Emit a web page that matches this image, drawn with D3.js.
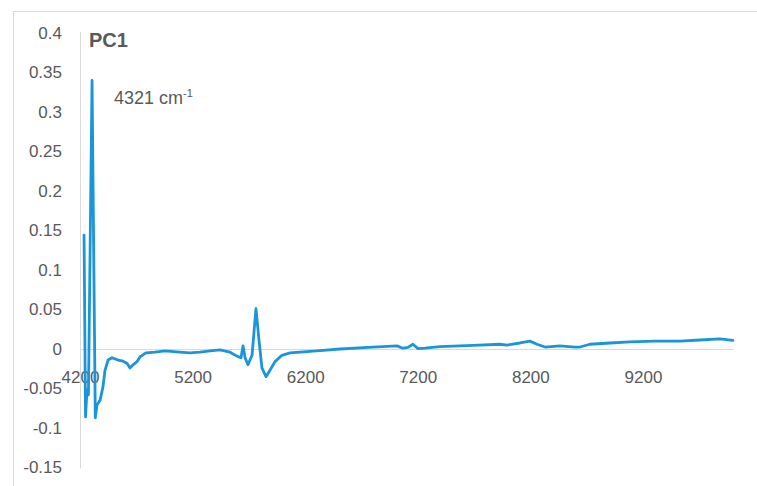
<!DOCTYPE html>
<html>
<head>
  <script src="https://d3js.org/d3.v7.min.js"></script>
  <style>
    html, body {
      margin: 0px;
      padding: 0px;
      background: #ffffff;
      font-family: "Liberation Sans", Arial, sans-serif;
    }

    .axis text {
      font-size: 17px;
      fill: #595959;
    }

    .axis path {
      stroke: #d9d9d9;
    }
  </style>
</head>
<body>
  <div id="chart"></div>
  <script>

      /*
      DATA
      */
      const wavenumber = [
        4236, 4249, 4262, 4275, 4307, 4336, 4351, 4378, 4404, 4422,
        4449, 4484, 4537, 4573, 4617, 4644, 4671, 4706, 4733, 4786,
        4866, 4955, 5088, 5177, 5266, 5355, 5443, 5532, 5594, 5630,
        5648, 5666, 5692, 5728, 5763, 5790, 5816, 5852, 5887, 5932,
        5994, 6065, 6154, 6331, 6509, 6802, 7015, 7068, 7113, 7157,
        7202, 7264, 7397, 7690, 7930, 7992, 8108, 8196, 8259, 8330,
        8463, 8596, 8641, 8729, 8907, 9084, 9306, 9528, 9706, 9884,
        9999
      ];

      const pc1 = [
        0.144, -0.086, -0.052, -0.058, 0.340, -0.087, -0.071, -0.065, -0.048, -0.027,
        -0.014, -0.011, -0.014, -0.015, -0.018, -0.024, -0.020, -0.016, -0.010, -0.005,
        -0.004, -0.0025, -0.004, -0.005, -0.004, -0.0025, -0.001, -0.004, -0.009, -0.011,
        0.004, -0.011, -0.020, -0.008, 0.051, 0.011, -0.024, -0.035, -0.027, -0.016,
        -0.008, -0.005, -0.004, -0.002, 0.0, 0.0025, 0.004, 0.001, 0.002, 0.006,
        0.0005, 0.001, 0.003, 0.0045, 0.006, 0.005, 0.0076, 0.010, 0.006, 0.0025,
        0.004, 0.0025, 0.0025, 0.006, 0.0076, 0.009, 0.010, 0.010, 0.0114, 0.0127,
        0.011
      ];

      const xTicks = [4200, 5200, 6200, 7200, 8200, 9200];
      const yTicks = [-0.15, -0.1, -0.05, 0, 0.05, 0.1, 0.15, 0.2, 0.25, 0.3, 0.35, 0.4];

      const data = wavenumber.map((w, i) => ({w: w, v: pc1[i]}));

      /*
      SVG CANVAS
      */
      const width = 757;
      const height = 486;
      const margin = {top: 33, left: 80, right: 24, bottom: 18.5};

      const svg = d3.select("#chart")
        .append("svg")
        .attr("width", width)
        .attr("height", height);

      // chart frame (only top and left edges fall inside the picture)
      svg.append("rect")
        .attr("x", 13.5)
        .attr("y", 11.5)
        .attr("width", 900)
        .attr("height", 600)
        .attr("fill", "none")
        .attr("stroke", "#d9d9d9");

      /*
      SCALES
      */
      const xScale = d3.scaleLinear()
        .domain([4200, 10000])
        .range([margin.left, width - margin.right]);

      const yScale = d3.scaleLinear()
        .domain([-0.15, 0.4])
        .range([height - margin.bottom, margin.top]);

      /*
      AXES
      */
      const yAxis = svg.append("g")
        .attr("class", "axis")
        .attr("transform", `translate(${margin.left},0)`)
        .call(d3.axisLeft(yScale)
          .tickValues(yTicks)
          .tickSize(0)
          .tickSizeOuter(0)
          .tickPadding(18)
          .tickFormat(d => String(+d.toFixed(2))));

      yAxis.select(".domain")
        .attr("d", `M0.5,${margin.top - 1}V${height - margin.bottom + 1}`);

      const xAxis = svg.append("g")
        .attr("class", "axis")
        .attr("transform", `translate(0,${yScale(0)})`)
        .call(d3.axisBottom(xScale)
          .tickValues(xTicks)
          .tickSize(0)
          .tickSizeOuter(0)
          .tickPadding(22)
          .tickFormat(d3.format("d")));

      svg.selectAll(".axis text").attr("font-family", null);

      /*
      LINE
      */
      const line = d3.line()
        .x(d => xScale(d.w))
        .y(d => yScale(d.v));

      svg.append("path")
        .datum(data)
        .attr("d", line)
        .attr("fill", "none")
        .attr("stroke", "#1a96d8")
        .attr("stroke-width", 2.8)
        .attr("stroke-linejoin", "round")
        .attr("stroke-linecap", "round");

      /*
      LABELS
      */
      svg.append("text")
        .attr("x", 89)
        .attr("y", 47)
        .attr("font-size", "20px")
        .attr("font-weight", "bold")
        .attr("fill", "#595959")
        .text("PC1");

      const note = svg.append("text")
        .attr("x", 114)
        .attr("y", 104)
        .attr("font-size", "18px")
        .attr("fill", "#595959");

      note.append("tspan").text("4321 cm");
      note.append("tspan")
        .attr("font-size", "11px")
        .attr("dy", "-7")
        .text("-1");

  </script>
</body>
</html>
